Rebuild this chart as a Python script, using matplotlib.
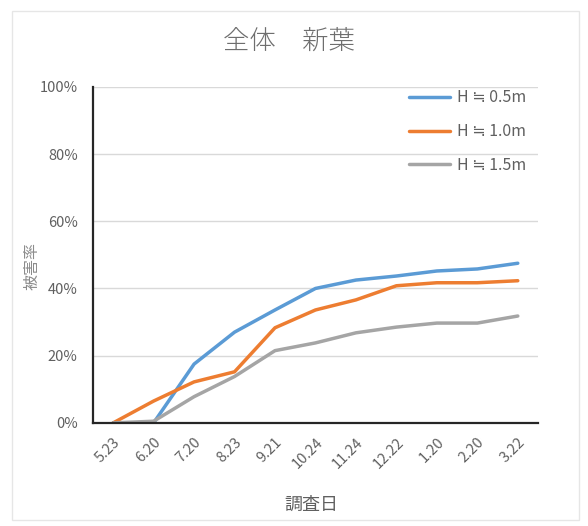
import matplotlib
matplotlib.use("Agg")
import matplotlib.pyplot as plt
from matplotlib.patches import Rectangle
from matplotlib.ticker import PercentFormatter

plt.rcParams['font.family'] = ['Noto Sans CJK JP', 'DejaVu Sans']

# survey dates and damage rates (%)
dates = ['5.23', '6.20', '7.20', '8.23', '9.21', '10.24', '11.24', '12.22', '1.20', '2.20', '3.22']
h05 = [0, 0, 17.5, 27, 33.6, 40, 42.5, 43.7, 45.2, 45.8, 47.5]
h10 = [0, 6.5, 12.2, 15.2, 28.3, 33.6, 36.6, 40.8, 41.7, 41.7, 42.3]
h15 = [0, 0.5, 7.8, 13.8, 21.5, 23.8, 26.8, 28.5, 29.7, 29.7, 31.8]
labels = ['H ≒ 0.5m', 'H ≒ 1.0m', 'H ≒ 1.5m']
colors = ['#5B9BD5', '#ED7D31', '#A5A5A5']

txt = '#606060'

fig = plt.figure(figsize=(5.88, 5.26), dpi=100)
fig.patches.append(Rectangle((0.021, 0.012), 0.963, 0.968, transform=fig.transFigure,
                             fill=False, edgecolor='#E6E6E6', linewidth=1))
ax = fig.add_axes([0.158, 0.196, 0.757, 0.639])

x = range(len(dates))
for ys, lab, c in zip([h05, h10, h15], labels, colors):
    ax.plot(x, ys, color=c, linewidth=2.5, label=lab, solid_capstyle='round')

ax.set_xlim(-0.5, len(dates) - 0.5)
ax.set_ylim(0, 100)
ax.set_yticks([0, 20, 40, 60, 80, 100])
ax.yaxis.set_major_formatter(PercentFormatter(decimals=0))
ax.grid(axis='y', color='#D9D9D9', linewidth=1)
ax.set_axisbelow(True)
ax.set_xticks(list(x))
ax.set_xticklabels(dates, rotation=45, ha='right', va='top', rotation_mode='anchor')
ax.tick_params(axis='both', length=0, colors=txt, labelsize=10.5)
ax.tick_params(axis='y', pad=11)
ax.tick_params(axis='x', pad=9)

for s in ['top', 'right']:
    ax.spines[s].set_visible(False)
for s in ['left', 'bottom']:
    ax.spines[s].set_color('#262626')
    ax.spines[s].set_linewidth(1.6)

fig.text(0.492, 0.923, '全体　新葉', ha='center', va='center', fontsize=19,
         color='#6E6E6E', fontweight='light')
fig.text(0.53, 0.04, '調査日', ha='center', va='center', fontsize=13, color=txt)
fig.text(0.055, 0.495, '被害率', ha='center', va='center', fontsize=11.5, color='#8C8C8C', rotation=90)

ax.legend(loc='upper right', bbox_to_anchor=(1.005, 1.035), frameon=False, fontsize=11.5,
          handlelength=2.6, labelspacing=1.05, handletextpad=0.4, labelcolor=txt)

fig.savefig('out.png', dpi=100)
